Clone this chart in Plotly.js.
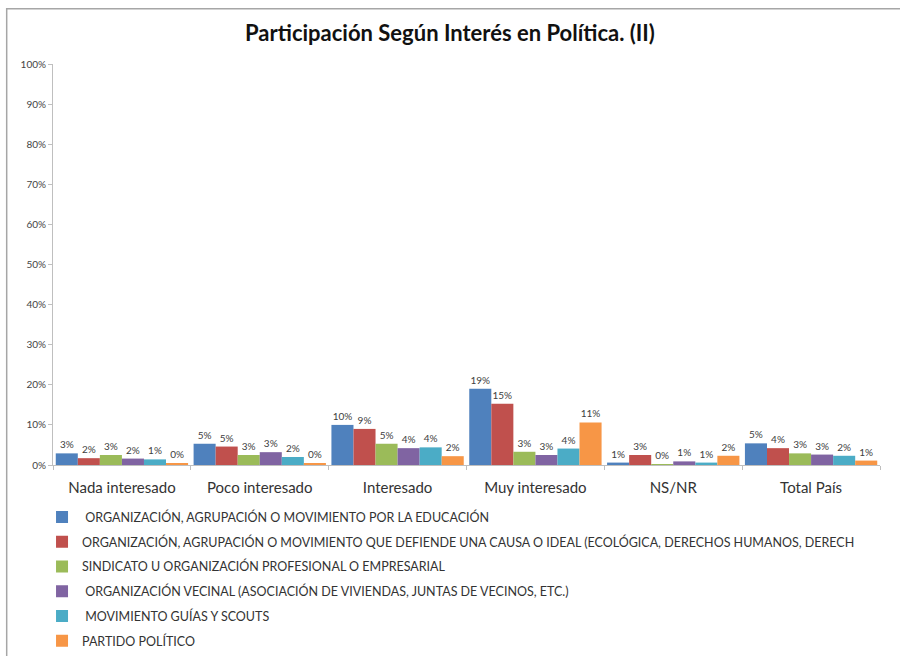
<!DOCTYPE html>
<html>
<head>
<meta charset="utf-8">
<script src="https://cdn.plot.ly/plotly-3.0.1.min.js"></script>
<style>
  body { margin: 0; background: #fff; }
  #chart { width: 900px; height: 656px; }
</style>
</head>
<body>
<div id="chart"></div>
<script>
const categories = ["Nada interesado", "Poco interesado", "Interesado", "Muy interesado", "NS/NR", "Total País"];

const seriesNames = [
  " ORGANIZACIÓN, AGRUPACIÓN O MOVIMIENTO POR LA EDUCACIÓN",
  "ORGANIZACIÓN, AGRUPACIÓN O MOVIMIENTO QUE DEFIENDE UNA CAUSA O IDEAL (ECOLÓGICA, DERECHOS HUMANOS, DERECH",
  "SINDICATO U ORGANIZACIÓN PROFESIONAL O EMPRESARIAL",
  " ORGANIZACIÓN VECINAL (ASOCIACIÓN DE VIVIENDAS, JUNTAS DE VECINOS, ETC.)",
  " MOVIMIENTO GUÍAS Y SCOUTS",
  "PARTIDO POLÍTICO"
];

// percent values per category
const educacion = [2.9, 5.3, 10.0, 19.0, 0.6, 5.4];
const causa     = [1.7, 4.6, 9.0, 15.3, 2.5, 4.2];
const sindicato = [2.5, 2.5, 5.3, 3.3, 0.2, 2.9];
const vecinal   = [1.6, 3.2, 4.2, 2.5, 0.9, 2.6];
const scouts    = [1.4, 2.0, 4.4, 4.1, 0.6, 2.3];
const partido   = [0.4, 0.3, 2.2, 10.6, 2.3, 1.1];

const allSeries = [educacion, causa, sindicato, vecinal, scouts, partido];
const colors = ["#4F81BD", "#C0504D", "#9BBB59", "#8064A2", "#4BACC6", "#F79646"];

const traces = allSeries.map((vals, i) => ({
  type: "bar",
  name: seriesNames[i],
  x: categories,
  y: vals,
  text: vals.map(v => Math.round(v) + "%"),
  textposition: "outside",
  textfont: { size: 10, color: "#404040" },
  cliponaxis: false,
  marker: { color: colors[i] },
  legendgroup: "g" + i,
  hoverinfo: "x+y"
}));

const layout = {
  width: 900,
  height: 656,
  font: { family: "Lato, 'Open Sans', sans-serif", color: "#333" },
  paper_bgcolor: "#fff",
  plot_bgcolor: "#fff",
  margin: { l: 53, r: 20, t: 64, b: 190.5, autoexpand: false },
  title: {
    text: "<b>Participación Según Interés en Política. (II)</b>",
    font: { size: 22, color: "#111" },
    x: 0.5, xref: "container", y: 0.95, yref: "container", yanchor: "middle"
  },
  barmode: "group",
  bargap: 0.04,
  bargroupgap: 0,
  xaxis: {
    showline: true, linecolor: "#bfbfbf",
    ticks: "outside", tickson: "boundaries", ticklen: 4, tickcolor: "#bfbfbf",
    tickfont: { size: 15, color: "#333" },
    ticklabelstandoff: 9
  },
  yaxis: {
    range: [0, 100], dtick: 10, ticksuffix: "%",
    showgrid: false, zeroline: false,
    showline: true, linecolor: "#bfbfbf",
    ticks: "outside", ticklen: 4, tickcolor: "#bfbfbf",
    tickfont: { size: 10, color: "#444" }
  },
  legend: {
    orientation: "v",
    xref: "container", x: 0.0467, xanchor: "left",
    yref: "container", y: 0.234, yanchor: "top",
    traceorder: "grouped",
    tracegroupgap: 5.5,
    font: { size: 12.5, color: "#333" },
    itemwidth: 30
  },
  showlegend: true,
  shapes: [{
    type: "rect", xref: "paper", yref: "paper",
    x0: -0.056, x1: 1.05, y0: 1.138, y1: -0.6,
    line: { color: "#a6a6a6", width: 1.5 }
  }]
};

Plotly.newPlot("chart", traces, layout, { displayModeBar: false });
</script>
</body>
</html>
